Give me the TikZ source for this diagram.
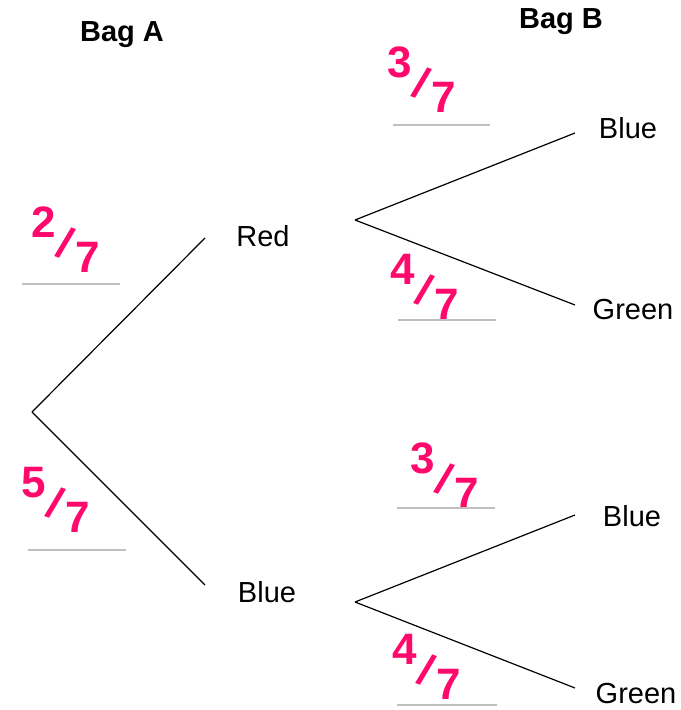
\documentclass[tikz,border=0pt]{standalone}
\usepackage{fontspec}
\setmainfont{Liberation Sans}
\usepackage{tikz}
\usepackage{xcolor}
\definecolor{ink}{HTML}{FF0A6C}
\definecolor{rulegray}{HTML}{C0C0C0}
\tikzstyle{outcome} = [draw=none, font=\fontsize{14.5}{17}\selectfont]
\tikzstyle{bag} = [draw=none, font=\fontsize{14.5}{17}\selectfont\bfseries]
\tikzstyle{prob} = [draw=none, text=ink, font=\fontsize{22}{26}\selectfont\bfseries]
\tikzstyle{answer} = [draw=rulegray, line width=1pt]
\newcommand{\handfrac}[2]{\raisebox{0.75ex}{#1}\kern-0.05em\rotatebox{-20}{/}\kern-0.02em\raisebox{-0.75ex}{#2}}

\begin{document}
\begin{tikzpicture}[x=0.5pt,y=-0.5pt,semithick]
  \useasboundingbox (0,0) rectangle (680,710);
  \node[bag] (bagA) at (122,35) {Bag A};
  \node[bag] (bagB) at (561,22) {Bag B};

  \coordinate (root) at (32,412);
  \coordinate (redL) at (205,238);
  \coordinate (blueL) at (205,585);
  \coordinate (redR) at (355,220);
  \coordinate (blueR) at (355,602);
  \coordinate (rbL) at (575,133);
  \coordinate (rgL) at (575,305);
  \coordinate (bbL) at (575,515);
  \coordinate (bgL) at (575,688);

  \node[outcome] (red) at (263,236) {Red};
  \node[outcome] (blue) at (267,592) {Blue};
  \node[outcome] (rb) at (628,128) {Blue};
  \node[outcome] (rg) at (633,310) {Green};
  \node[outcome] (bb) at (632,516) {Blue};
  \node[outcome] (bg) at (636,694) {Green};

  \draw (root) -- (redL);
  \draw (root) -- (blueL);
  \draw (redR) -- (rbL);
  \draw (redR) -- (rgL);
  \draw (blueR) -- (bbL);
  \draw (blueR) -- (bgL);

  % written probabilities
  \node[prob] (pRed) at (66,240) {\handfrac{2}{7}};
  \node[prob] (pBlue) at (56,500) {\handfrac{5}{7}};
  \node[prob] (pRB) at (422,80) {\handfrac{3}{7}};
  \node[prob] (pRG) at (425,287) {\handfrac{4}{7}};
  \node[prob] (pBB) at (445,476) {\handfrac{3}{7}};
  \node[prob] (pBG) at (427,667) {\handfrac{4}{7}};

  \draw[answer] (22,284) -- (120,284);
  \draw[answer] (28,550) -- (126,550);
  \draw[answer] (393,125) -- (490,125);
  \draw[answer] (398,320) -- (496,320);
  \draw[answer] (397,508) -- (495,508);
  \draw[answer] (397,705) -- (497,705);
\end{tikzpicture}
\end{document}
